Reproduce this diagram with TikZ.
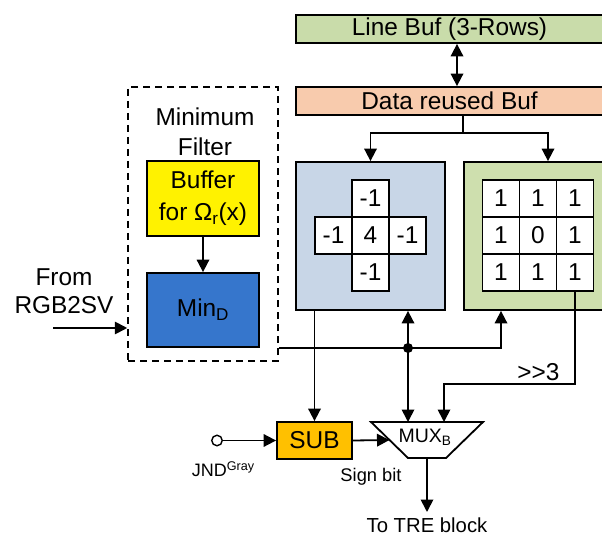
\documentclass[tikz,border=0pt]{standalone}
\usepackage{fontspec}
\setmainfont{Liberation Sans}
\usetikzlibrary{arrows.meta,calc}

\definecolor{bufgreen}{HTML}{C9DCAA}
\definecolor{reuseorange}{HTML}{F8CBAD}
\definecolor{lapblue}{HTML}{C8D6E7}
\definecolor{avggreen}{HTML}{CEDFAE}
\definecolor{minblue}{HTML}{3676CC}
\definecolor{subamber}{HTML}{FFC000}

\begin{document}
\begin{tikzpicture}[x=1pt,y=-1pt, line width=1.8pt,
  >={Triangle[length=12.5pt,width=12.5pt]},
  box/.style={draw, rectangle, inner sep=0pt},
  big/.style={font=\fontsize{24.4}{29}\selectfont},
  cell/.style={draw, fill=white, minimum size=37pt, inner sep=0pt, big},
]
\useasboundingbox (0,0) rectangle (602,537);

% buffers at the top
\node[box, fill=bufgreen, minimum width=307pt, minimum height=28pt, big] (linebuf) at (449.5,29) {Line Buf (3-Rows)};
\node[box, fill=reuseorange, minimum width=307pt, minimum height=28pt, big] (databuf) at (449.5,101) {Data reused Buf};
\draw[<->] ([xshift=7.5pt]linebuf.south) -- ([xshift=7.5pt]databuf.north);

% kernel boxes
\node[box, fill=lapblue, minimum width=149pt, minimum height=148pt] (kbox) at (370.5,236) {};
\node[box, fill=avggreen, minimum width=139pt, minimum height=148pt] (gbox) at (533.5,236) {};

\coordinate (split) at (463,133);
\coordinate (gx) at (548,0);
\draw (databuf.south -| split) -- (split);
\draw[->] (split) -| (kbox.north);
\draw[->] (split) -| (gbox.north -| gx);

% Laplacian cross
\node[cell] (k1) at (370.5,198.5) {-1};
\node[cell] (k2) at (333.5,235.5) {-1};
\node[cell] (k3) at (370.5,235.5) {4};
\node[cell] (k4) at (407.5,235.5) {-1};
\node[cell] (k5) at (370.5,272.5) {-1};

% averaging kernel
\node[cell] (g11) at (501,198.5) {1};
\node[cell] (g12) at (538,198.5) {1};
\node[cell] (g13) at (575,198.5) {1};
\node[cell] (g21) at (501,235.5) {1};
\node[cell] (g22) at (538,235.5) {0};
\node[cell] (g23) at (575,235.5) {1};
\node[cell] (g31) at (501,272.5) {1};
\node[cell] (g32) at (538,272.5) {1};
\node[cell] (g33) at (575,272.5) {1};

% minimum filter
\node[draw, line width=1.5pt, dash pattern=on 7pt off 5pt, minimum width=150pt, minimum height=274pt] (mf) at (203,224) {};
\node[big, align=center, font=\fontsize{24.4}{30}\selectfont] (mftitle) at (205,132) {Minimum\\Filter};
\node[box, fill=yellow, minimum width=112pt, minimum height=75pt, align=center, font=\fontsize{24.4}{32}\selectfont] (buf) at (203,198.5) {Buffer\\for Ω\textsubscript{r}(x)};
\node[box, fill=minblue, minimum width=112pt, minimum height=74pt, big] (mind) at (203,310) {Min\textsubscript{D}};
\draw[->] (buf) -- (mind);

\node[align=center, font=\fontsize{24.4}{28}\selectfont] (from) at (64,291) {From\\RGB2SV};
\coordinate (src) at (53,328);
\draw[->] (src) -- (src -| mf.west);

% subtractor and multiplexer
\node[box, fill=subamber, minimum width=75pt, minimum height=37pt, big] (sub) at (314.5,440.5) {SUB};
\coordinate (muxTL) at (371,422);
\coordinate (muxTR) at (483,422);
\coordinate (muxBR) at (446,458);
\coordinate (muxBL) at (408,458);
\draw[fill=white] (muxTL) -- (muxTR) -- (muxBR) -- (muxBL) -- cycle;
\node[font=\fontsize{19.5}{22}\selectfont, inner sep=0pt] (muxl) at (425,437) {MUX\textsubscript{B}};

% shared bus from the minimum filter
\coordinate (dot) at (408,348);
\coordinate (gbin) at (501,348);
\draw[->] (mf.east |- dot) -- (gbin) -- (gbin |- gbox.south);
\draw[<->] (kbox.south -| dot) -- (dot |- muxTL);
\fill (dot) circle (5pt);

\draw[->] (kbox.south -| sub) -- (sub.north);

% shifted average into the mux
\coordinate (shr) at (444,384);
\draw[->] (g33.south) |- (shr) -- (shr |- muxTL);
\node[big] (shift) at (538.5,372) {>{}>3};

% JND input
\node[circle, draw, fill=white, inner sep=0pt, minimum size=10.5pt, line width=1.4pt] (jnd) at (217,440.5) {};
\draw[->] (jnd) -- (sub.west);
\node[font=\fontsize{18}{20}\selectfont, anchor=base west, inner sep=0pt] (jndl) at (191,476.5) {JND\textsuperscript{Gray}};

\coordinate (muxin) at ($(muxTL)!0.5!(muxBL)$);
\draw[->] (sub.east) -- (muxin);
\node[font=\fontsize{18.3}{22}\selectfont] (sign) at (371,477) {Sign bit};

% output
\coordinate (muxout) at ($(muxBL)!0.5!(muxBR)$);
\coordinate (outend) at (427,512);
\draw[->] (muxout) -- (outend);
\node[font=\fontsize{20.3}{24}\selectfont, inner sep=0pt] (tre) at (427,525) {To TRE block};
\end{tikzpicture}
\end{document}
